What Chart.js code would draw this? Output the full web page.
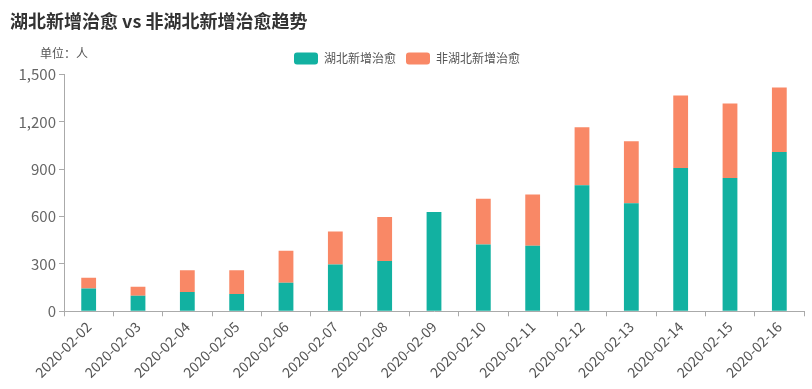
<!DOCTYPE html>
<html>
<head>
<meta charset="utf-8">
<script src="https://cdn.jsdelivr.net/npm/chart.js@4/dist/chart.umd.min.js"></script>
<style>
  body { margin: 0; background: #fff; }
</style>
</head>
<body>
<canvas id="curedChart" width="812" height="389"></canvas>
<script>
const dates = ['2020-02-02', '2020-02-03', '2020-02-04', '2020-02-05', '2020-02-06',
    '2020-02-07', '2020-02-08', '2020-02-09', '2020-02-10', '2020-02-11',
    '2020-02-12', '2020-02-13', '2020-02-14', '2020-02-15', '2020-02-16'];
const hubeiCured = [145, 98, 123, 110, 181, 296, 319, 630, 423, 415, 798, 685, 908, 845, 1010];
const otherCured = [67, 57, 137, 150, 202, 210, 279, 0, 290, 325, 368, 392, 460, 472, 409];
const yTicks = [0, 300, 600, 900, 1200, 1500];

const FONT = '"Noto Sans CJK SC", "Noto Sans", sans-serif';

// draws the "单位：人" note above the y axis
const unitLabel = {
    id: 'unitLabel',
    afterDraw(chart) {
        const ctx = chart.ctx;
        ctx.save();
        ctx.font = '12px ' + FONT;
        ctx.fillStyle = '#555';
        ctx.textAlign = 'center';
        ctx.textBaseline = 'middle';
        ctx.fillText('单位：人', 64, 53);
        ctx.restore();
    }
};

new Chart(document.getElementById('curedChart'), {
    type: 'bar',
    data: {
        labels: dates,
        datasets: [{
            label: '湖北新增治愈',
            data: hubeiCured,
            backgroundColor: '#12b1a1',
            barPercentage: 0.3,
            categoryPercentage: 1
        }, {
            label: '非湖北新增治愈',
            data: otherCured,
            backgroundColor: '#f98866',
            barPercentage: 0.3,
            categoryPercentage: 1
        }]
    },
    options: {
        responsive: false,
        animation: false,
        layout: { padding: { left: 10, right: 8, top: 8, bottom: 6 } },
        plugins: {
            title: {
                display: true,
                text: '湖北新增治愈 vs 非湖北新增治愈趋势',
                align: 'start',
                color: '#333',
                font: { family: FONT, size: 18, weight: 'bold' },
                padding: { top: 2, bottom: 11 }
            },
            legend: {
                position: 'top',
                labels: {
                    boxWidth: 24,
                    boxHeight: 12,
                    useBorderRadius: true,
                    borderRadius: 3,
                    color: '#555',
                    font: { family: FONT, size: 12 },
                    padding: 10
                }
            },
            tooltip: { enabled: false }
        },
        scales: {
            x: {
                stacked: true,
                grid: { drawOnChartArea: false, tickLength: 5, color: '#aaa' },
                border: { color: '#aaa' },
                ticks: {
                    color: '#555',
                    font: { family: FONT, size: 14 },
                    minRotation: 45,
                    maxRotation: 45,
                    padding: 2
                }
            },
            y: {
                stacked: true,
                min: 0,
                max: 1500,
                afterBuildTicks(axis) {
                    axis.ticks = yTicks.map(v => ({ value: v }));
                },
                afterFit(axis) {
                    axis.width = 54;   // puts the y axis line at x = 64
                },
                grid: { drawOnChartArea: false, tickLength: 5, color: '#aaa' },
                border: { color: '#aaa' },
                ticks: {
                    color: '#666',
                    font: { family: FONT, size: 15 },
                    padding: 3
                }
            }
        }
    },
    plugins: [unitLabel]
});
</script>
</body>
</html>
